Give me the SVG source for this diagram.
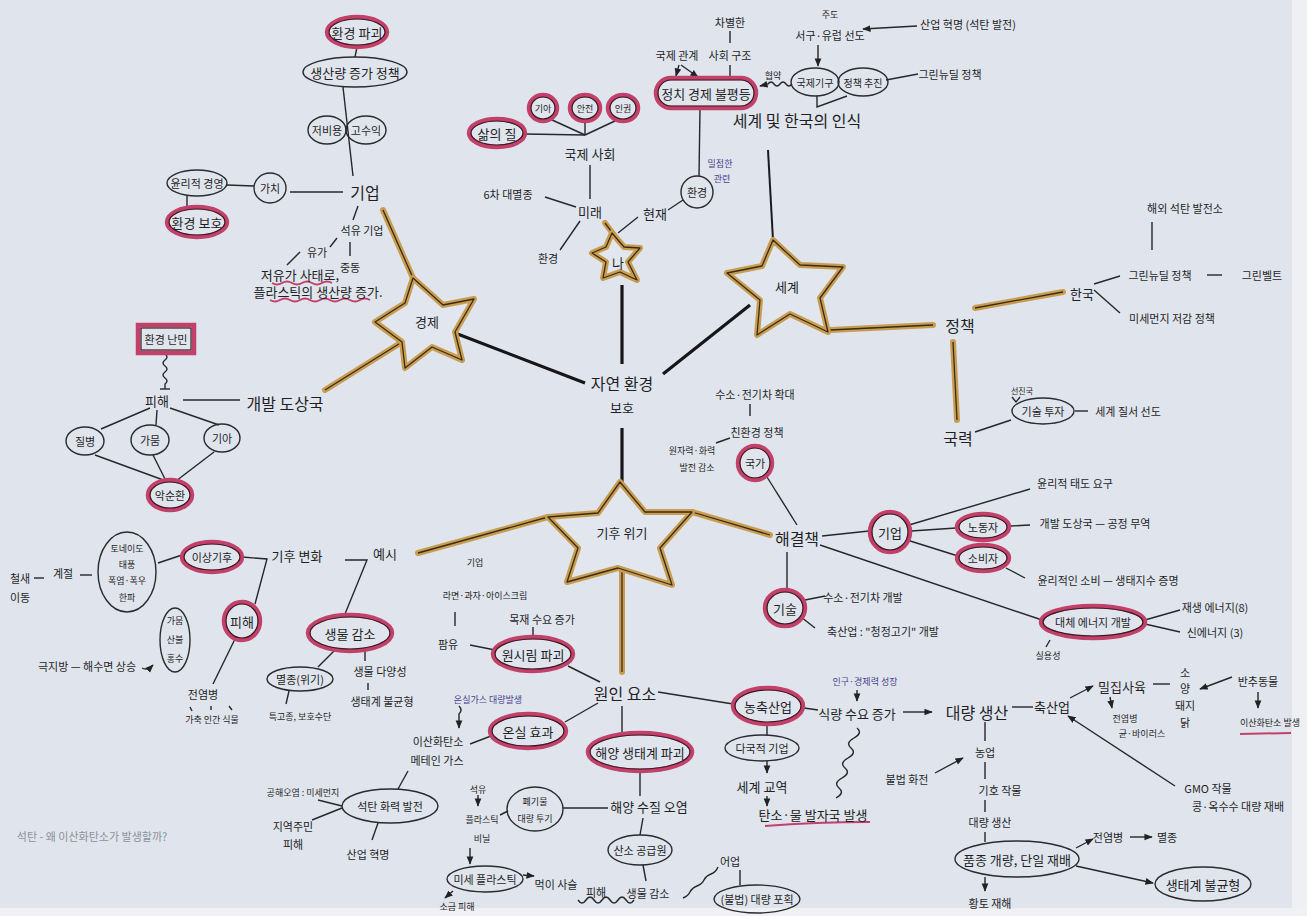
<svg xmlns="http://www.w3.org/2000/svg" xmlns:xlink="http://www.w3.org/1999/xlink" width="1307" height="916" viewBox="0 0 1307 916">
<defs>
<style>
text{font-family:"Noto Sans CJK KR","Noto Sans",sans-serif;fill:#1f1f26;text-anchor:middle;dominant-baseline:central}
.b{font-size:16px}.m{font-size:13px}.s{font-size:11px}.xs{font-size:9px}
.pu{fill:#4b3f8c}.gr{fill:#8b9099}
.e{fill:none;stroke:#2a2a30;stroke-width:1.4}
.rd{fill:none;stroke:#c2416a;stroke-width:4.5}
.rk{fill:none;stroke:#3a1a22;stroke-width:1.2}
.ln path,path.ln{fill:none;stroke:#26262c;stroke-width:1.4}
.bk{fill:none;stroke:#15151a;stroke-width:3.2}
.sg{fill:#e2e7ef;stroke:#c89d52;stroke-width:6;stroke-linejoin:round}
.sk{fill:none;stroke:#3a2c14;stroke-width:1.3;stroke-linejoin:round}
.ru{fill:none;stroke:#c2416a;stroke-width:2}
</style>
<marker id="ah" viewBox="0 0 10 10" refX="9" refY="5" markerWidth="6" markerHeight="6" orient="auto-start-reverse"><path d="M0,1 L10,5 L0,9 z" fill="#222"/></marker>
<g id="goldpaths">
<path d="M383,210 L413,278"/>
<path d="M325,390 L402,342"/>
<path d="M605,223 L614,235"/>
<path d="M830,330 L933,325"/>
<path d="M975,308 L1063,292"/>
<path d="M953,342 L957,420"/>
<path d="M418,553 L548,517"/>
<path d="M692,512 L770,535"/>
<path d="M622,568 L622,672"/>
</g>
</defs>

<rect width="1307" height="916" fill="#e0e5ed"/>
<rect x="1292" y="0" width="15" height="916" fill="#eef0f3"/>
<rect x="0" y="908" width="1307" height="8" fill="#f0f1f4"/>

<g id="connectors">
<g fill="none" stroke="#c89d52" stroke-width="6" stroke-linecap="round"><use href="#goldpaths"/></g>
<g fill="none" stroke="#3a2c14" stroke-width="1.3"><use href="#goldpaths"/></g>
<path class="bk" d="M455,333 L585,383"/>
<path class="bk" d="M622,285 L622,364"/>
<path class="bk" d="M750,305 L663,374"/>
<path class="bk" d="M622,428 L622,482"/>
<path d="M768,150 L773,240" fill="none" stroke="#1a1a1f" stroke-width="2"/>
<g class="ln">
<path d="M357,47 L355,57"/><path d="M343,87 L353,176"/><path d="M290,192 L343,192"/><path d="M227,185 L254,186"/><path d="M187,196 L187,207"/>
<path d="M358,206 L353,220"/><path d="M350,242 L350,256"/><path d="M337,238 L330,247"/><path d="M300,252 L287,265"/>
<path d="M525,134 L585,135"/><path d="M550,119 L585,135"/><path d="M585,121 L585,135"/><path d="M617,120 L585,135"/>
<path d="M590,165 L590,199"/><path d="M545,197 L576,207"/><path d="M580,221 L560,250"/><path d="M638,217 L618,233"/><path d="M668,210 L683,200"/>
<path d="M699,176 L700,108"/>
<path d="M679,65 L676,76" marker-end="url(#ah)"/><path d="M681,65 L698,77" marker-end="url(#ah)"/>
<path d="M730,65 L730,77"/><path d="M730,31 L730,43"/>
<path d="M818,45 L818,66" marker-end="url(#ah)"/><path d="M917,26 L863,29" marker-end="url(#ah)"/>
<path d="M886,80 L918,74"/><path d="M817,96 L817,107 L847,96"/>
<path d="M792,84 q-3,4 -6,0 t-6,0 t-6,0 t-6,0 L760,86" marker-end="url(#ah)"/>
<path d="M1094,284 L1120,276"/><path d="M1094,290 L1120,313"/><path d="M1152,222 L1152,250"/><path d="M1207,275 L1222,275"/>
<path d="M975,432 L1011,420"/><path d="M1075,411 L1088,411"/><path d="M1012,397 L1016,402 L1020,397"/>
<path d="M767,477 L797,525"/><path d="M750,404 L750,416"/><path d="M716,443 L730,438"/>
<path d="M822,536 L869,531"/><path d="M909,525 L1030,489"/><path d="M911,531 L956,528"/><path d="M907,540 L958,556"/><path d="M1006,568 L1025,578"/><path d="M1011,526 L1030,525"/>
<path d="M820,545 L1042,620"/><path d="M1145,620 L1180,610"/><path d="M1145,624 L1180,632"/><path d="M1050,640 L1046,647"/>
<path d="M787,552 L787,589"/><path d="M805,600 L825,596"/><path d="M801,617 L815,628"/>
<path d="M165,354 q4,3 0,6 t0,6 t0,6 t0,6 t0,6 L165,389"/><path d="M160,389 L170,389"/>
<path d="M183,400 L240,400"/>
<path d="M150,408 L101,429"/><path d="M157,410 L156,425"/><path d="M170,408 L219,425"/>
<path d="M95,455 L166,481"/><path d="M153,455 L166,481"/><path d="M214,452 L176,481"/>
<path d="M158,563 L182,555"/><path d="M242,557 L267,559 L255,604"/>
<path d="M34,578 L44,578"/><path d="M80,575 L92,575"/>
<path d="M235,639 L213,684"/>
<path d="M190,707 L192,711"/><path d="M211,706 L211,710"/><path d="M229,706 L232,710"/>
<path d="M142,668 q5,3 11,-3" marker-end="url(#ah)"/>
<path d="M335,650 L318,667"/><path d="M289,691 L286,704"/><path d="M365,651 L365,661"/><path d="M368,683 L368,690"/>
<path d="M345,560 L367,560 L345,614"/>
<path d="M455,612 L455,626"/><path d="M470,645 L495,650"/><path d="M533,627 L533,637"/><path d="M568,666 L600,682"/>
<path d="M598,703 L565,722"/><path d="M470,744 L491,736"/>
<path d="M459,706 q4,4 0,8 L459,728" marker-end="url(#ah)"/>
<path d="M408,771 L398,789"/><path d="M342,806 L318,800"/><path d="M342,808 L312,820"/><path d="M378,823 L372,840"/>
<path d="M622,706 L622,733"/><path d="M640,771 L640,796"/><path d="M563,808 L608,808"/>
<path d="M478,795 L478,806" marker-end="url(#ah)"/><path d="M500,815 L508,811"/>
<path d="M470,848 L470,864" marker-end="url(#ah)"/><path d="M523,875 L534,876" marker-end="url(#ah)"/><path d="M453,891 L445,898" marker-end="url(#ah)"/>
<path d="M643,818 L640,835"/><path d="M643,865 L646,881"/>
<path d="M578,900 q4,6 8,0 t8,0 t8,0 t8,0 t8,0 t8,0 t8,0"/>
<path d="M683,898 q5,-2 7,-6 t7,-6 t7,-6 t7,-6 t7,-7"/>
<path d="M740,870 L740,885"/>
<path d="M658,692 L733,704"/><path d="M804,708 L818,710"/>
<path d="M857,690 L857,701" marker-end="url(#ah)"/><path d="M903,712 L932,712" marker-end="url(#ah)"/>
<path d="M767,724 L767,735"/><path d="M767,761 L767,773" marker-end="url(#ah)"/><path d="M767,796 L767,806" marker-end="url(#ah)"/>
<path d="M857,728 q6,5 -3,10 t-3,10 t-3,10 t-3,10 t-3,10 t-3,10 t-3,10"/>
<path d="M1012,707 L1033,707"/><path d="M1070,698 L1093,686" marker-end="url(#ah)"/><path d="M1110,697 L1112,708" marker-end="url(#ah)"/>
<path d="M1153,684 L1170,684"/><path d="M1232,677 L1200,689" marker-end="url(#ah)"/><path d="M1258,692 L1258,708" marker-end="url(#ah)"/>
<path d="M1175,786 L1068,716" marker-end="url(#ah)"/>
<path d="M985,722 L985,741"/><path d="M935,773 L963,758" marker-end="url(#ah)"/>
<path d="M985,762 L985,779"/><path d="M985,800 L985,812"/><path d="M985,832 L985,842"/>
<path d="M1076,848 L1093,839" marker-end="url(#ah)"/><path d="M1130,837 L1152,837" marker-end="url(#ah)"/>
<path d="M1076,866 L1153,883" marker-end="url(#ah)"/><path d="M985,877 L985,891" marker-end="url(#ah)"/>
</g>
<path class="ru" d="M272,283 q5,3 10,0 t10,0 t10,0 t10,0 t10,0 t10,0"/>
<path class="ru" d="M270,300 q5,3 10,0 t10,0 t10,0 t10,0 t10,0 t10,0 t10,0 t10,0 t10,0 t10,0"/>
<path class="ru" d="M765,826 Q815,822 870,822"/>
<path class="ru" d="M1240,734 L1291,733"/>
</g>

<g id="star-gyeongje">
<polygon class="sg" points="413,278 443,305 474,299 455,332 462,360 432,347 405,368 402,342 375,322 405,303"/>
<polygon class="sk" points="413,278 443,305 474,299 455,332 462,360 432,347 405,368 402,342 375,322 405,303"/>
<text class="m" x="427" y="321">경제</text>
</g>
<g id="star-na">
<polygon class="sg" points="612,233 624,247 640,248 628,262 637,280 620,272 603,278 606,262 592,253 606,247"/>
<polygon class="sk" points="612,233 624,247 640,248 628,262 637,280 620,272 603,278 606,262 592,253 606,247"/>
<text class="m" x="618" y="262">나</text>
</g>
<g id="star-segye">
<polygon class="sg" points="773,240 800,265 843,267 820,298 828,332 790,314 757,335 760,300 727,273 762,266"/>
<polygon class="sk" points="773,240 800,265 843,267 820,298 828,332 790,314 757,335 760,300 727,273 762,266"/>
<text class="m" x="787" y="286">세계</text>
</g>
<g id="star-gihu">
<polygon class="sg" points="620,482 645,512 692,512 660,548 672,585 618,568 567,582 578,548 548,517 598,513"/>
<polygon class="sk" points="620,482 645,512 692,512 660,548 672,585 618,568 567,582 578,548 548,517 598,513"/>
<text class="m" x="622" y="532">기후 위기</text>
</g>

<g id="center"><text class="b" x="622" y="383">자연 환경</text><text class="m" x="622" y="407">보호</text></g>

<g id="n-hwangyeongpagoe"><ellipse class="rd" cx="357" cy="32" rx="30" ry="15"/><ellipse class="rk" cx="357" cy="32" rx="28" ry="13"/><text class="m" x="357" y="32">환경 파괴</text></g>
<g id="n-saengsan"><ellipse class="e" cx="355" cy="72" rx="52" ry="15"/><text class="m" x="355" y="72">생산량 증가 정책</text></g>
<g id="n-jeobiyong"><ellipse class="e" cx="327" cy="130" rx="19" ry="14"/><text class="s" x="327" y="130">저비용</text></g>
<g id="n-gosuik"><ellipse class="e" cx="366" cy="130" rx="20" ry="14"/><text class="s" x="366" y="130">고수익</text></g>
<g id="n-gieop1"><text class="b" x="365" y="192">기업</text></g>
<g id="n-gachi"><ellipse class="e" cx="270" cy="188" rx="16" ry="15"/><text class="s" x="270" y="188">가치</text></g>
<g id="n-yullijeok"><ellipse class="e" cx="197" cy="183" rx="30" ry="13"/><text class="s" x="197" y="183">윤리적 경영</text></g>
<g id="n-hwangyeongboho"><ellipse class="rd" cx="197" cy="222" rx="30" ry="15"/><ellipse class="rk" cx="197" cy="222" rx="28" ry="13"/><text class="m" x="197" y="222">환경 보호</text></g>
<g id="n-seogyu"><text class="s" x="362" y="230">석유 기업</text><text class="s" x="350" y="267">중동</text><text class="s" x="317" y="252">유가</text></g>
<g id="n-jeoyuga"><text class="m" x="300" y="274">저유가 사태로,</text><text class="m" x="318" y="291">플라스틱의 생산량 증가.</text></g>

<g id="n-salm"><ellipse class="rd" cx="497" cy="133" rx="28" ry="14"/><ellipse class="rk" cx="497" cy="133" rx="26" ry="12"/><text class="m" x="497" y="133">삶의 질</text></g>
<g id="n-gia1"><ellipse class="rd" cx="543" cy="108" rx="14" ry="13"/><ellipse class="rk" cx="543" cy="108" rx="12" ry="11"/><text class="xs" x="543" y="108">기아</text></g>
<g id="n-anjeon"><ellipse class="rd" cx="585" cy="108" rx="15" ry="13"/><ellipse class="rk" cx="585" cy="108" rx="13" ry="11"/><text class="xs" x="585" y="108">안전</text></g>
<g id="n-ingwon"><ellipse class="rd" cx="623" cy="108" rx="15" ry="13"/><ellipse class="rk" cx="623" cy="108" rx="13" ry="11"/><text class="xs" x="623" y="108">인권</text></g>
<g id="n-gukjesahoe"><text class="m" x="590" y="153">국제 사회</text></g>
<g id="n-mirae"><text class="m" x="590" y="211">미래</text><text class="s" x="508" y="194">6차 대멸종</text><text class="s" x="548" y="258">환경</text><text class="m" x="655" y="213">현재</text></g>
<g id="n-hwangyeong2"><ellipse class="e" cx="697" cy="192" rx="16" ry="16"/><text class="s" x="697" y="192">환경</text><text class="xs pu" x="720" y="163">밀접한</text><text class="xs pu" x="722" y="178">관련</text></g>
<g id="n-bulpyeongdeung"><rect class="rd" x="656" y="78" width="100" height="30" rx="15"/><rect class="rk" x="658" y="80" width="96" height="26" rx="13"/><text class="m" x="706" y="93">정치 경제 불평등</text></g>
<g id="n-gukjegwangye"><text class="s" x="677" y="55">국제 관계</text><text class="s" x="730" y="55">사회 구조</text><text class="s" x="730" y="22">차별한</text></g>
<g id="n-insik"><text class="b" x="797" y="120">세계 및 한국의 인식</text></g>
<g id="n-gukjegigu"><ellipse class="e" cx="815" cy="82" rx="24" ry="14"/><text class="xs" x="815" y="82" style="font-size:10px">국제기구</text><text class="xs" x="773" y="75">협약</text></g>
<g id="n-jeongchaekchujin"><ellipse class="e" cx="863" cy="82" rx="25" ry="14"/><text class="xs" x="863" y="82" style="font-size:10px">정책 추진</text></g>
<g id="n-seogu"><text class="s" x="830" y="35">서구·유럽 선도</text><text class="xs" x="830" y="14">주도</text><text class="s" x="968" y="24">산업 혁명 (석탄 발전)</text><text class="s" x="950" y="74">그린뉴딜 정책</text></g>

<g id="n-jeongchaek"><text class="b" x="960" y="325">정책</text></g>
<g id="n-hanguk"><text class="m" x="1082" y="293">한국</text><text class="s" x="1185" y="208">해외 석탄 발전소</text><text class="s" x="1160" y="275">그린뉴딜 정책</text><text class="s" x="1262" y="275">그린벨트</text><text class="s" x="1172" y="318">미세먼지 저감 정책</text></g>
<g id="n-gungnyeok"><text class="b" x="958" y="438">국력</text></g>
<g id="n-gisultuja"><ellipse class="e" cx="1043" cy="411" rx="31" ry="13"/><text class="s" x="1043" y="411">기술 투자</text><text class="xs" x="1022" y="390" style="font-size:8px">선진국</text><text class="s" x="1128" y="411">세계 질서 선도</text></g>

<g id="n-haegyeolchaek"><text class="b" x="797" y="538">해결책</text></g>
<g id="n-gukga"><ellipse class="rd" cx="755" cy="463" rx="17" ry="17"/><ellipse class="rk" cx="755" cy="463" rx="15" ry="15"/><text class="s" x="755" y="463">국가</text><text class="s" x="757" y="432">친환경 정책</text><text class="s" x="755" y="394">수소·전기차 확대</text><text class="xs" x="692" y="450">원자력·화력</text><text class="xs" x="697" y="467">발전 감소</text></g>
<g id="n-gieop2"><ellipse class="rd" cx="890" cy="532" rx="20" ry="20"/><ellipse class="rk" cx="890" cy="532" rx="18" ry="18"/><text class="m" x="890" y="532">기업</text></g>
<g id="n-nodongja"><ellipse class="rd" cx="983" cy="527" rx="26" ry="13"/><ellipse class="rk" cx="983" cy="527" rx="24" ry="11"/><text class="s" x="983" y="527">노동자</text></g>
<g id="n-sobija"><ellipse class="rd" cx="983" cy="558" rx="26" ry="13"/><ellipse class="rk" cx="983" cy="558" rx="24" ry="11"/><text class="s" x="983" y="558">소비자</text></g>
<g id="n-gieop2-t"><text class="s" x="1075" y="483">윤리적 태도 요구</text><text class="s" x="1095" y="523">개발 도상국 — 공정 무역</text><text class="s" x="1108" y="580">윤리적인 소비 — 생태지수 증명</text></g>
<g id="n-daeche"><ellipse class="rd" cx="1093" cy="622" rx="52" ry="16"/><ellipse class="rk" cx="1093" cy="622" rx="50" ry="14"/><text class="s" x="1093" y="622">대체 에너지 개발</text><text class="s" x="1215" y="607">재생 에너지(8)</text><text class="s" x="1215" y="632">신에너지 (3)</text><text class="xs" x="1048" y="655">실용성</text></g>
<g id="n-gisul"><ellipse class="rd" cx="785" cy="608" rx="20" ry="18"/><ellipse class="rk" cx="785" cy="608" rx="18" ry="16"/><text class="m" x="785" y="608">기술</text><text class="s" x="863" y="597">수소·전기차 개발</text><text class="s" x="883" y="631">축산업 : "청정고기" 개발</text></g>

<g id="n-nanmin"><rect class="rd" x="138" y="325" width="56" height="28"/><rect class="rk" x="141" y="328" width="50" height="22"/><text class="s" x="166" y="339">환경 난민</text></g>
<g id="n-pihae1"><text class="m" x="157" y="400">피해</text><text class="b" x="285" y="403">개발 도상국</text></g>
<g id="n-jilbyeong"><ellipse class="e" cx="85" cy="441" rx="19" ry="14"/><text class="s" x="85" y="441">질병</text></g>
<g id="n-gamum1"><ellipse class="e" cx="150" cy="440" rx="19" ry="15"/><text class="s" x="150" y="440">가뭄</text></g>
<g id="n-gia2"><ellipse class="e" cx="222" cy="438" rx="18" ry="14"/><text class="s" x="222" y="438">기아</text></g>
<g id="n-aksunhwan"><ellipse class="rd" cx="170" cy="495" rx="22" ry="15"/><ellipse class="rk" cx="170" cy="495" rx="20" ry="13"/><text class="s" x="170" y="495">악순환</text></g>
<g id="n-isanggihu"><ellipse class="rd" cx="212" cy="557" rx="30" ry="15"/><ellipse class="rk" cx="212" cy="557" rx="28" ry="13"/><text class="s" x="212" y="557">이상기후</text><text class="m" x="297" y="555">기후 변화</text><text class="m" x="385" y="553">예시</text></g>
<g id="n-tornado"><ellipse class="e" cx="127" cy="572" rx="29" ry="40"/><text class="xs" x="127" y="548">토네이도</text><text class="xs" x="127" y="564">태풍</text><text class="xs" x="127" y="580">폭염·폭우</text><text class="xs" x="127" y="597">한파</text><text class="s" x="63" y="573">계절</text><text class="s" x="20" y="578">철새</text><text class="s" x="20" y="597">이동</text></g>
<g id="n-pihae2"><ellipse class="rd" cx="242" cy="621" rx="18" ry="19"/><ellipse class="rk" cx="242" cy="621" rx="16" ry="17"/><text class="m" x="242" y="621">피해</text></g>
<g id="n-gamum2"><ellipse class="e" cx="175" cy="640" rx="15" ry="32"/><text class="xs" x="175" y="620">가뭄</text><text class="xs" x="175" y="639">산불</text><text class="xs" x="175" y="658">홍수</text><text class="s" x="87" y="666">극지방 — 해수면 상승</text></g>
<g id="n-jeonyeombyeong1"><text class="s" x="203" y="694">전염병</text><text class="xs" x="212" y="719">가축 인간 식물</text></g>
<g id="n-saengmul1"><ellipse class="rd" cx="350" cy="633" rx="42" ry="18"/><ellipse class="rk" cx="350" cy="633" rx="40" ry="16"/><text class="m" x="350" y="633">생물 감소</text></g>
<g id="n-myeoljong"><ellipse class="e" cx="300" cy="679" rx="33" ry="12"/><text class="s" x="300" y="679">멸종(위기)</text><text class="xs" x="300" y="716">특고종, 보호수단</text><text class="s" x="380" y="671">생물 다양성</text><text class="s" x="382" y="701">생태계 불균형</text></g>
<g id="n-note"><text class="s gr" x="92" y="836">석탄 - 왜 이산화탄소가 발생할까?</text></g>

<g id="n-wonsirim"><ellipse class="rd" cx="533" cy="654" rx="40" ry="17"/><ellipse class="rk" cx="533" cy="654" rx="38" ry="15"/><text class="m" x="533" y="654">원시림 파괴</text><text class="xs" x="475" y="562">기업</text><text class="xs" x="485" y="595">라면·과자·아이스크림</text><text class="s" x="448" y="644">팜유</text><text class="s" x="542" y="619">목재 수요 증가</text></g>
<g id="n-wonin"><text class="b" x="625" y="693">원인 요소</text></g>
<g id="n-onsil"><ellipse class="rd" cx="528" cy="731" rx="38" ry="17"/><ellipse class="rk" cx="528" cy="731" rx="36" ry="15"/><text class="m" x="528" y="731">온실 효과</text><text class="xs pu" x="488" y="699">온실가스 대량발생</text><text class="s" x="438" y="741">이산화탄소</text><text class="s" x="437" y="760">메테인 가스</text></g>
<g id="n-seoktan"><ellipse class="e" cx="390" cy="806" rx="48" ry="17"/><text class="s" x="390" y="806">석탄 화력 발전</text><text class="xs" x="303" y="792">공해오염 : 미세먼지</text><text class="s" x="293" y="826">지역주민</text><text class="s" x="293" y="844">피해</text><text class="s" x="368" y="854">산업 혁명</text></g>
<g id="n-haeyang"><ellipse class="rd" cx="640" cy="752" rx="52" ry="19"/><ellipse class="rk" cx="640" cy="752" rx="50" ry="17"/><text class="m" x="640" y="752">해양 생태계 파괴</text><text class="m" x="649" y="806">해양 수질 오염</text></g>
<g id="n-pegimul"><ellipse class="e" cx="535" cy="809" rx="28" ry="22"/><text class="xs" x="535" y="801">폐기물</text><text class="xs" x="535" y="818">대량 투기</text><text class="xs" x="478" y="789">석유</text><text class="xs" x="482" y="819">플라스틱</text><text class="xs" x="482" y="838">비닐</text></g>
<g id="n-misepla"><ellipse class="e" cx="485" cy="879" rx="38" ry="13"/><text class="s" x="485" y="879">미세 플라스틱</text><text class="s" x="556" y="884">먹이 사슬</text><text class="xs" x="457" y="906">소금 피해</text></g>
<g id="n-sanso"><ellipse class="e" cx="640" cy="850" rx="32" ry="15"/><text class="s" x="640" y="850">산소 공급원</text><text class="s" x="648" y="893">생물 감소</text><text class="s" x="596" y="892">피해</text></g>
<g id="n-eoeop"><text class="s" x="730" y="861">어업</text><ellipse class="e" cx="757" cy="899" rx="43" ry="14"/><text class="s" x="757" y="899">(불법) 대량 포획</text></g>

<g id="n-nongchuk"><ellipse class="rd" cx="768" cy="706" rx="35" ry="18"/><ellipse class="rk" cx="768" cy="706" rx="33" ry="16"/><text class="m" x="768" y="706">농축산업</text></g>
<g id="n-sikryang"><text class="m" x="857" y="713">식량 수요 증가</text><text class="xs pu" x="865" y="681">인구·경제력 성장</text></g>
<g id="n-daeryang1"><text class="b" x="977" y="712">대량 생산</text></g>
<g id="n-daguk"><ellipse class="e" cx="762" cy="748" rx="37" ry="13"/><text class="s" x="762" y="748">다국적 기업</text><text class="m" x="762" y="786">세계 교역</text><text class="m" x="813" y="814">탄소·물 발자국 발생</text></g>
<g id="n-chuksan"><text class="m" x="1052" y="706">축산업</text><text class="m" x="1122" y="686">밀집사육</text><text class="xs" x="1125" y="718">전염병</text><text class="xs" x="1142" y="733">균·바이러스</text>
<text class="s" x="1185" y="672">소</text><text class="s" x="1185" y="688">양</text><text class="s" x="1185" y="705">돼지</text><text class="s" x="1185" y="722">닭</text>
<text class="s" x="1258" y="681">반추동물</text><text class="xs" x="1240" y="722" style="text-anchor:start">이산화탄소 발생</text>
<text class="s" x="1208" y="788">GMO 작물</text><text class="s" x="1238" y="806">콩·옥수수 대량 재배</text></g>
<g id="n-nongeop"><text class="s" x="985" y="752">농업</text><text class="s" x="907" y="779">불법 화전</text><text class="s" x="1000" y="790">기호 작물</text><text class="s" x="990" y="822">대량 생산</text></g>
<g id="n-pumjong"><ellipse class="e" cx="1017" cy="859" rx="62" ry="18"/><text class="m" x="1017" y="859">품종 개량, 단일 재배</text><text class="s" x="1108" y="837">전염병</text><text class="s" x="1167" y="837">멸종</text><text class="s" x="990" y="903">황토 재해</text></g>
<g id="n-saengtae"><ellipse class="e" cx="1203" cy="884" rx="48" ry="17"/><text class="m" x="1203" y="884">생태계 불균형</text></g>
</svg>
